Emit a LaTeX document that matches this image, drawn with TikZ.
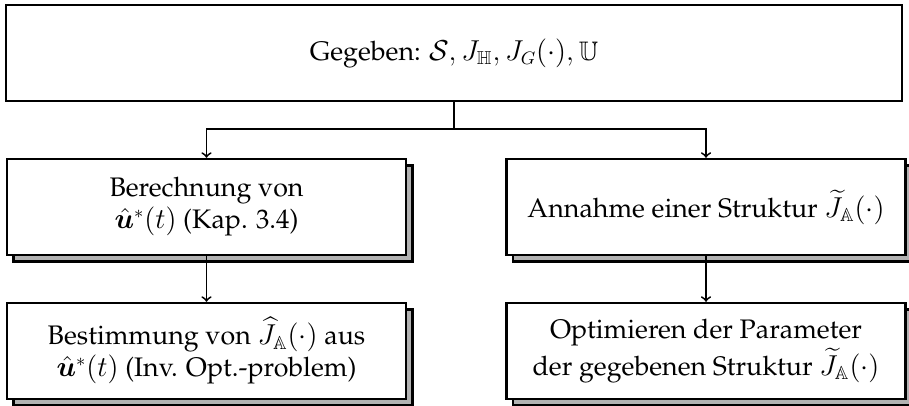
\documentclass[tikz,border=0pt]{standalone}
\usepackage[T1]{fontenc}
\usepackage{palatino}
\usepackage{amsmath,amssymb,bm}
\usetikzlibrary{shadows}

\tikzset{
  block/.style={draw, line width=1.2pt, fill=white, align=center,
    minimum width=199.5pt, minimum height=48pt,
    font=\fontsize{13.4}{16}\selectfont,
    general shadow={fill=gray!60, draw=black, line width=1.2pt, shadow xshift=3.3pt, shadow yshift=-3.3pt}},
  kopf/.style={draw, line width=1.2pt, fill=white, align=center,
    minimum width=448pt, minimum height=48pt,
    font=\fontsize{13.4}{16}\selectfont},
  pfeil/.style={->, line width=0.9pt}
}

\begin{document}
\begin{tikzpicture}[x=0.5pt,y=-0.5pt]
        \useasboundingbox (0,0) rectangle (909,406);
        %Ausgangsgroessen
        \node[kopf] (gegeben) at (454,53) {Gegeben: $\mathcal{S}, J_{\mathbb{H}}, J_G(\cdot), \mathbb{U}$};
        %linker Zweig
        \node[block] (berechnung) at (206.5,207) {Berechnung von\\ $\hat{\bm{u}}^*(t)$ (Kap. 3.4)};
        \node[block] (bestimmung) at (206.5,351) {Bestimmung von $\widehat{J}_{\mathbb{A}}(\cdot)$ aus\\ $\hat{\bm{u}}^*(t)$ (Inv. Opt.-problem)};
        %rechter Zweig
        \node[block] (annahme) at (706,207) {Annahme einer Struktur $\widetilde{J}_{\mathbb{A}}(\cdot)$};
        \node[block] (optimieren) at (706,351) {Optimieren der Parameter\\ der gegebenen Struktur $\widetilde{J}_{\mathbb{A}}(\cdot)$};
        % Verzweigung
        \draw[pfeil] (gegeben.south) -- ++(0,27) -| (berechnung.north);
        \draw[pfeil] (gegeben.south) -- ++(0,27) -| (annahme.north);
        \draw[pfeil] (berechnung) -- (bestimmung);
        \draw[pfeil] (annahme) -- (optimieren);
    \end{tikzpicture}
\end{document}
